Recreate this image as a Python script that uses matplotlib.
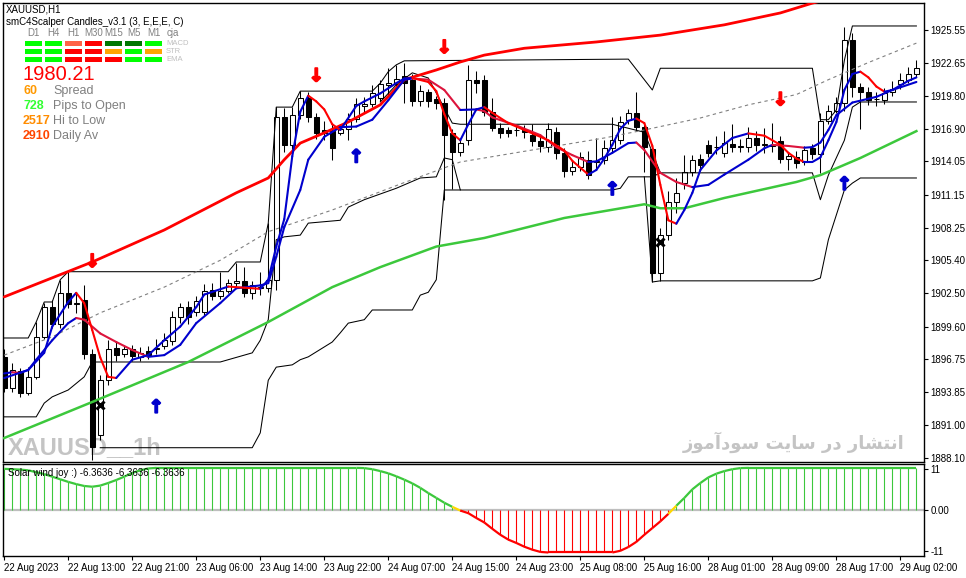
import numpy as np
import matplotlib
matplotlib.use("Agg")
import matplotlib.pyplot as plt
import matplotlib.patheffects as pe
from matplotlib.collections import LineCollection
from matplotlib.patches import Rectangle

plt.rcParams['font.family'] = ['Liberation Sans', 'DejaVu Sans']

# XAUUSD H1 candles, bar 0 = 22 Aug 2023 05:00
opens = [1896.9, 1894.2, 1895.7, 1893.8, 1895.2, 1898.7, 1901.3, 1899.8, 1902.5, 1901.6,
         1901.9, 1897.2, 1890.1, 1894.9, 1897.7, 1897.2, 1897.6, 1896.9, 1897.5, 1897.6,
         1897.9, 1898.3, 1900.4, 1901.3, 1900.9, 1900.9, 1902.8, 1902.3, 1902.7, 1903.4,
         1903.6, 1902.5, 1903.0, 1903.0, 1903.7, 1917.9, 1915.5, 1918.1, 1919.6, 1917.9,
         1916.8, 1916.7, 1916.5, 1916.9, 1917.8, 1918.9, 1919.1, 1919.6, 1920.7, 1920.8,
         1921.5, 1921.2, 1919.3, 1920.1, 1919.5, 1919.2, 1916.5, 1914.9, 1915.9, 1921.2,
         1921.2, 1918.4, 1917.0, 1916.8, 1916.8, 1916.8, 1916.4, 1915.8, 1915.3, 1916.6,
         1914.8, 1913.2, 1913.6, 1914.2, 1914.0, 1914.2, 1915.2, 1915.9, 1917.7, 1918.3,
         1917.1, 1915.1, 1904.3, 1907.6, 1910.5, 1912.2, 1913.1, 1914.3, 1915.5, 1915.3,
         1914.8, 1915.6, 1915.3, 1915.3, 1916.1, 1915.5, 1915.5, 1915.8, 1914.3, 1914.4,
         1914.0, 1915.2, 1914.7, 1917.6, 1918.5, 1919.2, 1924.7, 1920.6, 1920.1, 1919.5,
         1919.4, 1920.1, 1920.8, 1921.2, 1921.7]
highs = [1897.6, 1896.4, 1896.0, 1896.1, 1900.0, 1901.7, 1901.9, 1903.7, 1904.4, 1902.6,
         1903.2, 1897.6, 1895.4, 1898.4, 1898.3, 1898.0, 1898.0, 1897.8, 1897.9, 1898.5,
         1899.0, 1901.0, 1901.7, 1901.8, 1902.3, 1903.3, 1903.4, 1904.4, 1903.8, 1905.2,
         1904.8, 1903.6, 1904.4, 1908.7, 1918.8, 1918.7, 1918.8, 1920.2, 1920.1, 1918.3,
         1917.6, 1917.3, 1917.3, 1918.3, 1919.6, 1919.7, 1920.7, 1921.2, 1922.2, 1922.5,
         1922.7, 1921.7, 1920.7, 1920.4, 1919.8, 1919.6, 1916.9, 1916.1, 1922.5, 1922.0,
         1921.6, 1919.6, 1917.4, 1917.1, 1917.3, 1917.2, 1917.3, 1916.4, 1917.4, 1917.1,
         1915.2, 1914.2, 1914.9, 1915.0, 1916.1, 1915.9, 1917.9, 1918.0, 1918.6, 1920.1,
         1917.5, 1915.6, 1908.2, 1911.5, 1912.6, 1914.6, 1914.6, 1914.7, 1915.9, 1916.3,
         1916.7, 1917.3, 1916.0, 1917.1, 1916.7, 1917.0, 1917.4, 1916.3, 1914.9, 1915.0,
         1915.4, 1915.6, 1918.3, 1919.0, 1919.7, 1925.8, 1925.3, 1920.9, 1920.6, 1920.1,
         1920.5, 1921.1, 1921.8, 1922.3, 1922.9]
lows = [1893.9, 1893.9, 1893.4, 1893.6, 1895.0, 1898.5, 1899.5, 1899.5, 1901.2, 1900.8,
        1896.8, 1887.9, 1889.7, 1894.5, 1896.6, 1896.9, 1896.6, 1896.6, 1896.8, 1897.2,
        1897.6, 1898.0, 1899.9, 1899.8, 1900.5, 1900.6, 1901.9, 1902.0, 1902.5, 1903.1,
        1902.2, 1902.0, 1902.4, 1902.6, 1902.8, 1914.9, 1914.8, 1917.8, 1917.5, 1916.0,
        1915.9, 1914.2, 1916.4, 1915.9, 1917.5, 1918.4, 1918.8, 1919.3, 1919.9, 1920.5,
        1919.2, 1918.9, 1918.9, 1918.8, 1918.6, 1910.7, 1911.6, 1914.5, 1915.5, 1920.0,
        1918.0, 1916.7, 1916.1, 1916.2, 1916.3, 1916.1, 1915.4, 1914.9, 1914.9, 1914.3,
        1912.7, 1912.9, 1913.2, 1912.5, 1913.3, 1913.8, 1914.9, 1915.6, 1917.3, 1916.7,
        1913.1, 1903.5, 1903.6, 1907.2, 1909.5, 1911.6, 1912.8, 1913.2, 1914.4, 1914.7,
        1914.4, 1914.9, 1914.9, 1914.9, 1915.0, 1914.8, 1914.9, 1913.9, 1913.3, 1913.5,
        1913.7, 1914.3, 1913.0, 1917.3, 1918.3, 1918.5, 1919.7, 1916.9, 1919.0, 1918.9,
        1919.1, 1919.8, 1920.4, 1920.9, 1921.4]
closes = [1894.2, 1895.8, 1893.8, 1895.2, 1898.7, 1901.3, 1899.8, 1902.5, 1901.6, 1901.7,
          1897.2, 1889.1, 1894.9, 1897.6, 1897.1, 1897.6, 1897.0, 1897.3, 1897.1, 1897.7,
          1898.4, 1900.4, 1901.3, 1900.4, 1901.8, 1902.7, 1902.3, 1902.7, 1903.4, 1903.6,
          1902.5, 1903.2, 1903.1, 1903.7, 1917.9, 1915.5, 1918.1, 1919.6, 1917.9, 1916.5,
          1916.5, 1915.2, 1916.9, 1917.8, 1919.1, 1919.1, 1920.0, 1920.8, 1920.9, 1921.3,
          1920.9, 1919.3, 1920.2, 1919.3, 1919.2, 1916.4, 1914.9, 1915.7, 1921.2, 1920.9,
          1918.4, 1917.0, 1916.5, 1916.5, 1916.8, 1916.6, 1915.8, 1915.4, 1916.9, 1914.8,
          1913.2, 1913.6, 1914.4, 1912.9, 1914.1, 1915.2, 1915.9, 1917.5, 1918.3, 1917.1,
          1915.3, 1904.3, 1907.6, 1910.5, 1911.3, 1913.1, 1914.2, 1913.7, 1914.8, 1915.3,
          1915.7, 1915.3, 1915.4, 1916.1, 1915.5, 1915.5, 1915.4, 1914.3, 1914.5, 1913.9,
          1915.05, 1914.7, 1917.6, 1918.5, 1919.2, 1924.7, 1920.6, 1920.1, 1919.4, 1919.5,
          1920.0, 1920.4, 1921.2, 1921.7, 1922.2]

# fast MA (blue rising / red falling)
fast_idx = [0, 3, 5, 6, 8, 9, 10, 11, 12, 13, 14, 16, 18, 20, 22, 24, 25, 28, 30, 32,
            33, 34, 35, 36, 37, 38, 39, 40, 41, 42, 44, 45, 47, 49, 50, 51, 53, 54, 55, 56,
            57, 58, 59, 60, 61, 63, 65, 68, 70, 71, 73, 74, 75, 76, 77, 78, 79, 80, 81, 82,
            83, 84, 85, 86, 87, 89, 91, 93, 95, 97, 98, 99, 100, 101, 102, 103, 104, 105, 106, 107,
            108, 109, 110, 111, 112, 113, 114]
fast_val = [1895.1, 1895.8, 1897.3, 1899.6, 1901.75, 1902.55, 1901.65, 1899.3, 1896.9, 1895.2,
            1895.1, 1896.7, 1897.1, 1898.4, 1899.6, 1901.3, 1902.4, 1903.1, 1903.0, 1902.9,
            1903.7, 1906.6, 1909.0, 1914.5, 1918.4, 1919.8, 1919.3, 1918.6, 1917.3, 1916.8,
            1918.9, 1919.3, 1920.0, 1920.9, 1921.3, 1921.35, 1921.0, 1920.2, 1918.2, 1916.5,
            1915.9, 1917.3, 1918.6, 1918.8, 1918.3, 1917.4, 1916.8, 1915.9, 1915.0, 1914.1,
            1912.9, 1913.3, 1914.3, 1915.5, 1916.9, 1917.6, 1917.8, 1917.4, 1915.4, 1912.0,
            1908.9, 1908.6, 1909.8, 1911.3, 1913.3, 1915.0, 1916.1, 1916.5, 1916.3, 1915.5,
            1914.8, 1914.3, 1914.0, 1914.0, 1914.4, 1915.9, 1917.5, 1920.3, 1921.7, 1921.9,
            1921.4, 1920.6, 1920.15, 1920.3, 1920.7, 1921.1, 1921.4]

# medium MA (blue rising / crimson falling)
mid_idx = [0, 1, 2, 3, 4, 6, 8, 9, 10, 12, 14, 16, 18, 20, 22, 24, 27, 29, 32, 33,
           34, 35, 37, 38, 40, 42, 44, 46, 48, 50, 51, 53, 55, 57, 59, 60, 61, 64, 67, 69,
           71, 73, 74, 76, 78, 79, 80, 82, 84, 86, 88, 90, 93, 95, 96, 98, 100, 101, 102, 103,
           104, 106, 109, 111, 114]
mid_val = [1895.5, 1895.6, 1895.55, 1895.8, 1896.7, 1898.4, 1899.9, 1900.35, 1900.2, 1899.0,
           1898.25, 1897.55, 1896.95, 1897.1, 1898.0, 1899.9, 1901.65, 1902.95, 1903.2, 1903.4,
           1905.7, 1908.3, 1911.55, 1914.2, 1916.2, 1917.05, 1917.1, 1917.7, 1919.4, 1921.2,
           1921.3, 1921.2, 1920.3, 1918.55, 1918.6, 1918.45, 1917.9, 1917.2, 1916.35, 1915.3,
           1914.6, 1914.0, 1914.05, 1914.8, 1915.65, 1915.7, 1915.05, 1913.05, 1912.25, 1911.8,
           1912.0, 1912.9, 1914.2, 1915.2, 1915.5, 1915.4, 1915.25, 1915.3, 1915.7, 1916.8,
           1918.1, 1919.2, 1919.7, 1920.3, 1921.0]

# upper red envelope, green slow MA, gray dashed trend
env_idx = [0, 11, 20, 29, 33, 35, 37, 40, 43, 47, 50, 54, 57, 60, 65, 74, 82, 90, 97, 101, 114]
env_val = [1902.2, 1905.25, 1908.05, 1911.3, 1912.6, 1914.2, 1915.65, 1916.55, 1917.5, 1919.0,
           1921.2, 1922.05, 1922.75, 1923.35, 1923.95, 1924.5, 1925.1, 1926.0, 1927.04, 1927.9, 1930.2]
slow_idx = [0, 11, 23, 33, 41, 47, 54, 60, 70, 80, 82, 85, 90, 99, 102, 107, 114]
slow_val = [1889.85, 1893.0, 1896.5, 1900.0, 1903.05, 1904.8, 1906.6, 1907.35, 1909.1, 1910.3,
            1909.95, 1909.95, 1910.85, 1912.25, 1912.85, 1914.35, 1916.7]
trend_idx = [0, 6, 12, 20, 27, 33, 41, 50, 57, 66, 75, 80, 87, 93, 99, 103, 108, 114]
trend_val = [1897.1, 1898.7, 1900.8, 1903.05, 1905.4, 1907.9, 1909.8, 1912.2, 1914.0, 1915.05,
             1916.1, 1916.8, 1917.85, 1919.0, 1919.9, 1921.2, 1922.7, 1924.4]

# thin black channel lines
hi_idx = [0, 3, 4, 5, 6, 7, 8, 28, 29, 32, 33, 34, 36, 37, 46, 47, 48, 49, 50, 78,
          81, 82, 101, 102, 103, 104, 105, 106, 114]
hi_val = [1898.6, 1898.6, 1900.0, 1901.75, 1901.75, 1903.7, 1904.4, 1904.4, 1905.25, 1905.25,
          1908.65, 1918.8, 1918.8, 1920.2, 1920.2, 1920.9, 1921.9, 1922.5, 1922.85, 1923.0,
          1920.3, 1922.2, 1922.2, 1917.7, 1917.7, 1918.55, 1922.9, 1925.9, 1925.9]
lo_idx = [0, 4, 5, 6, 8, 10, 11, 27, 31, 32, 33, 34, 35, 37, 38, 42, 43, 45, 49, 52,
          54, 55, 56, 57, 76, 77, 78, 81, 82, 101, 102, 103, 105, 106, 107, 114]
lo_val = [1891.7, 1891.7, 1892.9, 1893.45, 1894.05, 1895.2, 1896.5, 1896.5, 1897.3, 1898.4,
          1900.2, 1907.2, 1907.45, 1907.6, 1908.65, 1908.9, 1910.05, 1910.7, 1911.7, 1912.6,
          1912.7, 1914.35, 1914.2, 1911.55, 1911.55, 1911.7, 1912.7, 1912.7, 1913.05, 1913.05,
          1910.7, 1912.85, 1915.9, 1918.8, 1919.25, 1919.25]
inner_idx = [47, 49, 51, 53, 56, 57, 76, 80, 82]
inner_val = [1919.25, 1920.75, 1921.8, 1921.35, 1917.4, 1917.3, 1917.3, 1916.6, 1913.05]
deep_idx = [12, 31, 32, 33, 34, 36, 37, 38, 41, 42, 43, 45, 46, 51, 52, 53, 54, 55, 57, 58,
            80, 81, 82, 101, 102, 103, 105, 106, 107, 114]
deep_val = [1889.0, 1889.0, 1890.3, 1894.9, 1896.05, 1896.25, 1896.7, 1896.95, 1898.25, 1899.05,
            1899.9, 1900.2, 1901.05, 1901.05, 1902.35, 1902.6, 1903.7, 1911.55, 1911.55, np.nan,
            1912.7, 1903.5, 1903.6, 1903.6, 1903.85, 1907.2, 1911.55, 1912.15, 1912.6, 1912.6]

# signals
sell_idx = [11, 39, 55, 97]
sell_px = [1905.25, 1921.5, 1923.97, 1919.4]
buy_idx = [19, 44, 76, 105]
buy_px = [1892.5, 1914.4, 1911.55, 1912.0]
cross_idx = [12, 82]
cross_px = [1892.7, 1907.0]

# Solar wind joy oscillator, one value per bar
osc = [11.1, 11.0, 10.9, 10.7, 10.2, 9.7, 9.0, 8.3, 7.6, 7.0,
       6.5, 6.3, 6.6, 7.3, 8.1, 9.0, 10.0, 10.7, 11.2, 11.36,
       11.36, 11.36, 11.36, 11.36, 11.36, 11.36, 11.36, 11.36, 11.36, 11.36,
       11.36, 11.36, 11.36, 11.36, 11.36, 11.36, 11.36, 11.36, 11.36, 11.36,
       11.36, 11.36, 11.36, 11.36, 11.36, 11.3, 11.0, 10.5, 9.9, 9.1,
       8.2, 7.2, 6.0, 4.6, 3.3, 2.0, 0.9, -0.1, -0.8, -2.1,
       -3.3, -5.0, -6.6, -7.9, -8.8, -9.8, -10.6, -11.2, -11.36, -11.36,
       -11.36, -11.36, -11.36, -11.36, -11.36, -11.36, -11.36, -10.9, -9.9, -8.5,
       -6.6, -4.8, -3.0, -1.0, 1.2, 3.3, 5.6, 7.3, 8.8, 9.8,
       10.5, 11.0, 11.3, 11.36, 11.36, 11.36, 11.36, 11.36, 11.36, 11.36,
       11.36, 11.36, 11.36, 11.36, 11.36, 11.36, 11.36, 11.36, 11.36, 11.36,
       11.36, 11.36, 11.36, 11.36, 11.36]

price_ticks = [1925.55, 1922.65, 1919.80, 1916.90, 1914.05, 1911.15, 1908.25,
               1905.40, 1902.50, 1899.60, 1896.75, 1893.85, 1891.00, 1888.10]
time_ticks = [0, 8, 16, 24, 32, 40, 48, 56, 64, 72, 80, 88, 96, 104, 112]
time_labels = ["22 Aug 2023", "22 Aug 13:00", "22 Aug 21:00", "23 Aug 06:00", "23 Aug 14:00",
               "23 Aug 22:00", "24 Aug 07:00", "24 Aug 15:00", "24 Aug 23:00", "25 Aug 08:00",
               "25 Aug 16:00", "28 Aug 01:00", "28 Aug 09:00", "28 Aug 17:00", "29 Aug 02:00"]

tf_names = ["D1", "H4", "H1", "M30", "M15", "M5", "M1", "cja"]
macd_row = ['#00FF00', '#00FF00', '#FF6347', '#FF0000', '#007700', '#007700', '#00FF00']
str_row = ['#00FF00', '#00FF00', '#FF0000', '#FF0000', '#FFA500', '#00FF00', '#FFA500']
ema_row = ['#00FF00', '#00FF00', '#FF0000', '#FF0000', '#FF0000', '#00FF00', '#00FF00']


def two_tone(ax, xs, ys, up, down, lw, z):
    xs = np.asarray(xs, float)
    ys = np.asarray(ys, float)
    pts = np.column_stack([xs, ys])
    segs = np.stack([pts[:-1], pts[1:]], axis=1)
    cols = [up if b >= a else down for a, b in zip(ys[:-1], ys[1:])]
    ax.add_collection(LineCollection(segs, colors=cols, linewidths=lw, zorder=z,
                                     capstyle='round', joinstyle='round'))


def shape_fa(s):
    # minimal Persian shaping + visual order for matplotlib
    forms = {
        'ا': (0xFE8D, 0xFE8E, 0xFE8D, 0xFE8E), 'آ': (0xFE81, 0xFE82, 0xFE81, 0xFE82),
        'ن': (0xFEE5, 0xFEE6, 0xFEE7, 0xFEE8), 'ت': (0xFE95, 0xFE96, 0xFE97, 0xFE98),
        'ش': (0xFEB5, 0xFEB6, 0xFEB7, 0xFEB8), 'ر': (0xFEAD, 0xFEAE, 0xFEAD, 0xFEAE),
        'د': (0xFEA9, 0xFEAA, 0xFEA9, 0xFEAA), 'س': (0xFEB1, 0xFEB2, 0xFEB3, 0xFEB4),
        'ی': (0xFBFC, 0xFBFD, 0xFEF3, 0xFEF4), 'و': (0xFEED, 0xFEEE, 0xFEED, 0xFEEE),
        'م': (0xFEE1, 0xFEE2, 0xFEE3, 0xFEE4), 'ز': (0xFEAF, 0xFEB0, 0xFEAF, 0xFEB0),
    }
    no_left = set('اآدذرزو')
    out = []
    for k, ch in enumerate(s):
        if ch not in forms:
            out.append(ch)
            continue
        prev = s[k - 1] if k > 0 else ' '
        nxt = s[k + 1] if k + 1 < len(s) else ' '
        jp = prev in forms and prev not in no_left
        jn = nxt in forms and ch not in no_left
        iso, fin, ini, med = forms[ch]
        out.append(chr(med if (jp and jn) else fin if jp else ini if jn else iso))
    return ''.join(reversed(out))


def fx(x):
    return x / 966


def fy(y):
    return 1 - y / 578


fig = plt.figure(figsize=(9.66, 5.78), dpi=100)
ax = fig.add_axes([fx(3), fy(462), fx(924) - fx(3), fy(3) - fy(462)])
ax2 = fig.add_axes([fx(3), fy(556), fx(924) - fx(3), fy(464) - fy(556)], sharex=ax)

n = len(closes)
idx = np.arange(n)
o = np.array(opens)
h = np.array(highs)
l = np.array(lows)
c = np.array(closes)
bull = c >= o

# candles
ax.vlines(idx, l, h, color='black', linewidth=0.75, zorder=2)
body_lo = np.minimum(o, c)
body_h = np.maximum(np.abs(c - o), 0.03)
ax.bar(idx[bull], body_h[bull], bottom=body_lo[bull], width=0.62,
       facecolor='white', edgecolor='black', linewidth=0.75, zorder=2.5)
ax.bar(idx[~bull], body_h[~bull], bottom=body_lo[~bull], width=0.62,
       facecolor='black', edgecolor='black', linewidth=0.75, zorder=2.5)

# channel lines
for xs, ys in [(hi_idx, hi_val), (lo_idx, lo_val), (inner_idx, inner_val), (deep_idx, deep_val)]:
    ax.plot(xs, ys, color='black', linewidth=0.75, zorder=3)
ax.plot(trend_idx, trend_val, color='#808080', linewidth=0.8, linestyle=(0, (3, 3)), zorder=3)

ax.plot(env_idx, env_val, color='#FF0000', linewidth=2.0, zorder=4, solid_capstyle='round')
ax.plot(slow_idx, slow_val, color='#3CC83C', linewidth=1.8, zorder=4)
two_tone(ax, mid_idx, mid_val, '#0000CD', '#DC143C', 1.5, 4.2)
two_tone(ax, fast_idx, fast_val, '#0000CD', '#FF0000', 1.5, 4.4)

for xi, p in zip(sell_idx, sell_px):
    ax.text(xi, p, '↓', color='#FF0000', fontsize=13, fontweight='bold',
            ha='center', va='center', family='DejaVu Sans', zorder=6,
            path_effects=[pe.withStroke(linewidth=1.3, foreground='#FF0000')])
for xi, p in zip(buy_idx, buy_px):
    ax.text(xi, p, '↑', color='#0000CD', fontsize=13, fontweight='bold',
            ha='center', va='center', family='DejaVu Sans', zorder=6,
            path_effects=[pe.withStroke(linewidth=1.3, foreground='#0000CD')])
ax.plot(cross_idx, cross_px, linestyle='none', marker='x', markersize=6,
        markeredgewidth=2.2, color='black', zorder=6)

# watermarks
ax.text(0.0054, 0.018, 'XAUUSD__1h', transform=ax.transAxes, fontsize=17, fontweight='bold',
        family='Liberation Sans', color='#C4C4C4', va='baseline', zorder=0.5)
ax.text(0.979, 0.042, shape_fa('انتشار در سایت سودآموز'), transform=ax.transAxes,
        fontsize=13, fontweight='bold', family='DejaVu Sans', color='#C4C4C4',
        ha='right', va='center', zorder=0.5)

ax.set_xlim(-0.15, 114.95)
ax.set_ylim(1887.75, 1927.91)
ax.yaxis.tick_right()
ax.set_yticks(price_ticks)
ax.set_yticklabels([f"{v:.2f}" for v in price_ticks])
ax.tick_params(axis='y', direction='out', length=3, width=0.8, labelsize=7, pad=1.5)
ax.tick_params(axis='x', bottom=False, labelbottom=False)
for sp in ax.spines.values():
    sp.set_linewidth(1.0)

# oscillator panel
osc_a = np.array(osc)
ax2.axhline(0, color='#BEBEBE', linewidth=1.6, zorder=1)
ax2.vlines(idx, 0, osc_a, colors=np.where(osc_a >= 0, '#3CC83C', '#FF0000'),
           linewidth=0.8, zorder=2)
pts = np.column_stack([idx, osc_a])
segs = np.stack([pts[:-1], pts[1:]], axis=1)
seg_cols = []
for a, b in zip(osc_a[:-1], osc_a[1:]):
    if a > 0 and b > 0:
        seg_cols.append('#3CC83C')
    elif a < 0 and b < 0:
        seg_cols.append('#FF0000')
    else:
        seg_cols.append('#FFD700')
ax2.add_collection(LineCollection(segs, colors=seg_cols, linewidths=1.6, zorder=3))
ax2.text(0.0054, 0.955, 'Solar wind joy :) -6.3636 -6.3636 -6.3636', transform=ax2.transAxes,
         fontsize=7, va='top', zorder=5)
ax2.set_ylim(-12.3, 12.4)
ax2.yaxis.tick_right()
ax2.set_yticks([11, 0, -11])
ax2.set_yticklabels(['11', '0.00', '-11'])
ax2.tick_params(axis='y', direction='out', length=3, width=0.8, labelsize=7, pad=1.5)
ax2.set_xticks(time_ticks)
ax2.set_xticklabels(time_labels)
ax2.tick_params(axis='x', direction='out', length=3, width=0.8, labelsize=7, pad=2)
for lbl in ax2.get_xticklabels():
    lbl.set_horizontalalignment('left')
for sp in ax2.spines.values():
    sp.set_linewidth(1.0)

# info box (top-left)
fig.text(fx(6), fy(10), 'XAUUSD,H1', fontsize=7, va='center')
fig.text(fx(6), fy(22), 'smC4Scalper Candles_v3.1 (3, E,E,E, C)', fontsize=7, va='center')
tf_x = [33, 53, 73, 94, 114, 134, 154, 173]
for name, x in zip(tf_names, tf_x):
    fig.text(fx(x), fy(33), name, fontsize=7, color='#808080', ha='center', va='center')
block_x = [25, 45, 65, 85, 105, 125, 145]
for row, top, label in [(macd_row, 41, 'MACD'), (str_row, 49.3, 'STR'), (ema_row, 57, 'EMA')]:
    for col, x in zip(row, block_x):
        fig.add_artist(Rectangle((fx(x), fy(top + 4.6)), 17 / 966, 4.6 / 578,
                                 transform=fig.transFigure, color=col, linewidth=0))
    fig.text(fx(166), fy(top + 2.3), label, fontsize=5.5, color='#C0C0C0', va='center')
fig.text(fx(22), fy(75), '1980.21', fontsize=14.5, color='#FF0000', va='center')
info = [('60', 'Spread', '#FF9900', 91), ('728', 'Pips to Open', '#33FF33', 106),
        ('2517', 'Hi to Low', '#FF8C00', 121), ('2910', 'Daily Av', '#FF4500', 136)]
for num, lab, col, y in info:
    fig.text(fx(23), fy(y), num, fontsize=9, fontweight='bold', color=col, va='center')
    fig.text(fx(53), fy(y), lab, fontsize=9, color='#808080', va='center')

fig.savefig('out.png', dpi=100, facecolor='white')
